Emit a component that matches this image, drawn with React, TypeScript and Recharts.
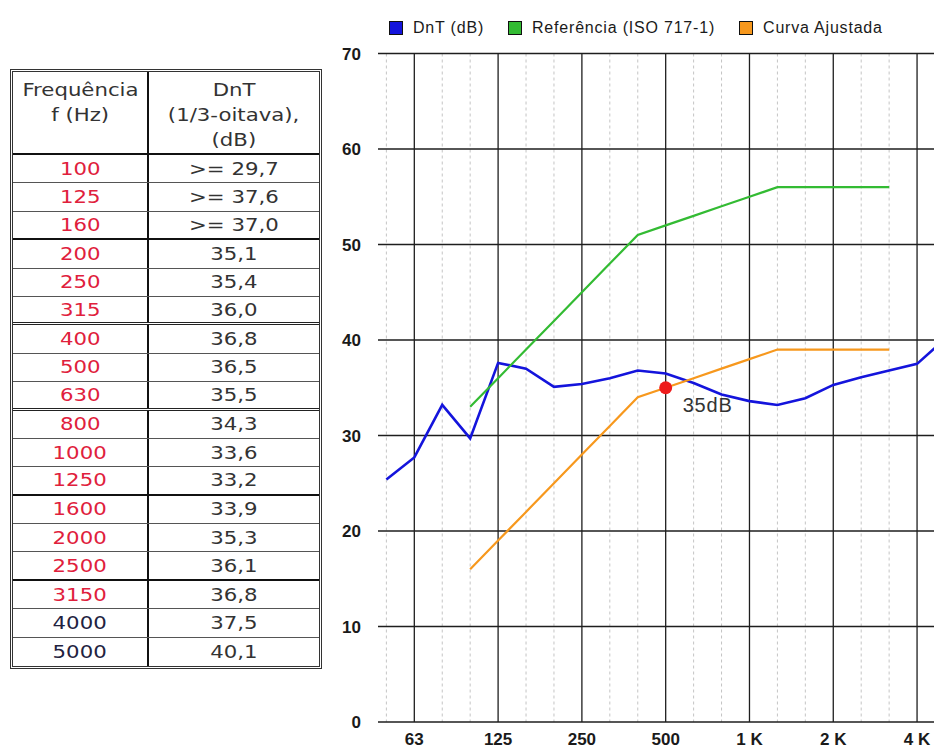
import React from "react";
import { CartesianGrid, Legend, Line, LineChart, ReferenceDot, XAxis, YAxis } from "recharts";

// 1/3-octave bands shown on the chart
const bands = ["50", "63", "80", "100", "125", "160", "200", "250", "315", "400", "500", "630", "800", "1000", "1250", "1600", "2000", "2500", "3150", "4000", "5000"];
const dntValues = [25.4, 27.7, 33.2, 29.7, 37.6, 37.0, 35.1, 35.4, 36.0, 36.8, 36.5, 35.5, 34.3, 33.6, 33.2, 33.9, 35.3, 36.1, 36.8, 37.5, 40.1];
const referenceValues = [null, null, null, 33, 36, 39, 42, 45, 48, 51, 52, 53, 54, 55, 56, 56, 56, 56, 56, null, null];
const adjustedValues = [null, null, null, 16, 19, 22, 25, 28, 31, 34, 35, 36, 37, 38, 39, 39, 39, 39, 39, null, null];
const seriesNames = ["DnT (dB)", "Referência (ISO 717-1)", "Curva Ajustada"];

const octaveBands = ["63", "125", "250", "500", "1000", "2000", "4000"];
const octaveLabels = ["63", "125", "250", "500", "1 K", "2 K", "4 K"];
const dbTicks = [0, 10, 20, 30, 40, 50, 60, 70];

const ratedBand = "500";
const ratedValue = 35;
const ratedLabel = "35dB";

// table on the left
const tableBands = ["100", "125", "160", "200", "250", "315", "400", "500", "630", "800", "1000", "1250", "1600", "2000", "2500", "3150", "4000", "5000"];
const tableValues = [">= 29,7", ">= 37,6", ">= 37,0", "35,1", "35,4", "36,0", "36,8", "36,5", "35,5", "34,3", "33,6", "33,2", "33,9", "35,3", "36,1", "36,8", "37,5", "40,1"];
const freqHeader = ["Frequência", "f (Hz)"];
const valueHeader = ["DnT", "(1/3-oitava),", "(dB)"];

const ARIAL = '"Liberation Sans", Arial, sans-serif';
const VERDANA = '"DejaVu Sans", Verdana, sans-serif';

const chartData = bands.map((band, i) => ({
  pos: i,
  band,
  dnt: dntValues[i],
  ref: referenceValues[i],
  adj: adjustedValues[i],
}));
const octaveTicks = octaveBands.map((b) => bands.indexOf(b));
const thirdTicks = bands.map((_, i) => i).filter((i) => !octaveTicks.includes(i));

const groupBorders = ["2px solid #111", "3px double #222", "3px double #222", "2px solid #111", "2px solid #111", "none"];

function Stretched({ children }: { children: React.ReactNode }) {
  return <span style={{ display: "inline-block", transform: "scaleX(1.25)", whiteSpace: "nowrap" }}>{children}</span>;
}

function DataTable() {
  const cell = (width: number | undefined, divider: boolean): React.CSSProperties => ({
    width,
    flex: width ? "none" : 1,
    boxSizing: "border-box",
    borderRight: divider ? "2px solid #111" : undefined,
    display: "flex",
    justifyContent: "center",
    alignItems: "center",
  });
  return (
    <div
      style={{
        position: "absolute",
        left: 10,
        top: 69,
        width: 312,
        border: "3px double #333",
        boxSizing: "border-box",
        background: "#fff",
        fontFamily: VERDANA,
        fontSize: 17,
        color: "#333",
      }}
    >
      <div style={{ display: "flex", height: 83, borderBottom: "2px solid #111", boxSizing: "border-box" }}>
        <div style={{ ...cell(136, true), flexDirection: "column", justifyContent: "flex-start", paddingTop: 6, lineHeight: "25px" }}>
          {freqHeader.map((t) => <Stretched key={t}>{t}</Stretched>)}
        </div>
        <div style={{ ...cell(undefined, false), flexDirection: "column", justifyContent: "flex-start", paddingTop: 6, lineHeight: "25px" }}>
          {valueHeader.map((t) => <Stretched key={t}>{t}</Stretched>)}
        </div>
      </div>
      {tableBands.map((band, i) => {
        const last = i === tableBands.length - 1;
        const border = last ? "none" : i % 3 === 2 ? groupBorders[Math.floor(i / 3)] : "1px solid #555";
        const inRange = referenceValues[bands.indexOf(band)] != null;
        return (
          <div key={band} style={{ display: "flex", height: 28.4, boxSizing: "border-box", borderBottom: border }}>
            <div style={{ ...cell(136, true), color: inRange ? "#e0203c" : "#22223f" }}>
              <Stretched>{band}</Stretched>
            </div>
            <div style={cell(undefined, false)}>
              <Stretched>{tableValues[i]}</Stretched>
            </div>
          </div>
        );
      })}
    </div>
  );
}

function ChartLegend({ payload }: any) {
  const items = [...(payload ?? [])].sort((a: any, b: any) => seriesNames.indexOf(a.value) - seriesNames.indexOf(b.value));
  return (
    <div style={{ display: "flex", alignItems: "center", fontFamily: ARIAL, fontSize: 16, letterSpacing: 0.8, color: "#1a1a1a" }}>
      {items.map((item: any) => (
        <div key={item.value} style={{ display: "flex", alignItems: "center", marginRight: 24 }}>
          <span style={{ width: 12, height: 12, background: item.color, border: "1px solid #111", marginRight: 10 }} />
          <span>{item.value}</span>
        </div>
      ))}
    </div>
  );
}

function RatedLabel(props: any) {
  const vb = props.viewBox ?? {};
  const cx = (vb.x ?? 0) + (vb.width ?? 0) / 2;
  const cy = (vb.y ?? 0) + (vb.height ?? 0) / 2;
  return (
    <text x={cx + 17} y={cy + 24.5} fill="#333" fontSize={20} fontFamily={ARIAL} letterSpacing={0.8}>
      {ratedLabel}
    </text>
  );
}

const tickStyle = { fill: "#1a1a1a", fontSize: 17, fontWeight: "bold", fontFamily: ARIAL };

export default function App() {
  return (
    <div style={{ position: "absolute", left: 0, top: 0, width: 934, height: 749, overflow: "hidden", background: "#fff" }}>
      <div style={{ position: "absolute", left: 0, top: 0 }}>
        <LineChart width={1000} height={749} data={chartData} margin={{ top: 53.5, right: 18.7, bottom: 0, left: 338 }}>
          <CartesianGrid horizontal={false} verticalValues={thirdTicks} syncWithTicks stroke="#c4c4c4" strokeDasharray="3 3" />
          <CartesianGrid verticalValues={octaveTicks} horizontalValues={dbTicks} syncWithTicks stroke="#1e1e1e" strokeWidth={1.3} />
          <XAxis
            type="number"
            dataKey="pos"
            domain={[-0.3, 21.3]}
            allowDataOverflow
            ticks={octaveTicks}
            interval={0}
            tickFormatter={(v) => octaveLabels[octaveTicks.indexOf(Number(v))] ?? ""}
            axisLine={false}
            tickLine={false}
            tickSize={0}
            tickMargin={11}
            height={27}
            tick={tickStyle}
          />
          <YAxis
            type="number"
            domain={[0, 70]}
            ticks={dbTicks}
            interval={0}
            axisLine={false}
            tickLine={false}
            tickSize={0}
            tickMargin={17}
            width={40}
            tick={tickStyle}
          />
          <Legend
            content={<ChartLegend />}
            layout="horizontal"
            verticalAlign="middle"
            align="center"
            wrapperStyle={{ top: 19, left: 389, width: "auto" }}
          />
          <Line dataKey="dnt" name={seriesNames[0]} stroke="#1414dc" strokeWidth={2.6} dot={false} activeDot={false} isAnimationActive={false} />
          <Line dataKey="ref" name={seriesNames[1]} stroke="#33bb33" strokeWidth={2.2} dot={false} activeDot={false} isAnimationActive={false} />
          <Line dataKey="adj" name={seriesNames[2]} stroke="#f7981d" strokeWidth={2.2} dot={false} activeDot={false} isAnimationActive={false} />
          <ReferenceDot
            x={bands.indexOf(ratedBand)}
            y={ratedValue}
            r={6.5}
            fill="#ee1c1c"
            stroke="none"
            label={(p: any) => <RatedLabel {...p} />}
          />
        </LineChart>
      </div>
      <DataTable />
    </div>
  );
}
